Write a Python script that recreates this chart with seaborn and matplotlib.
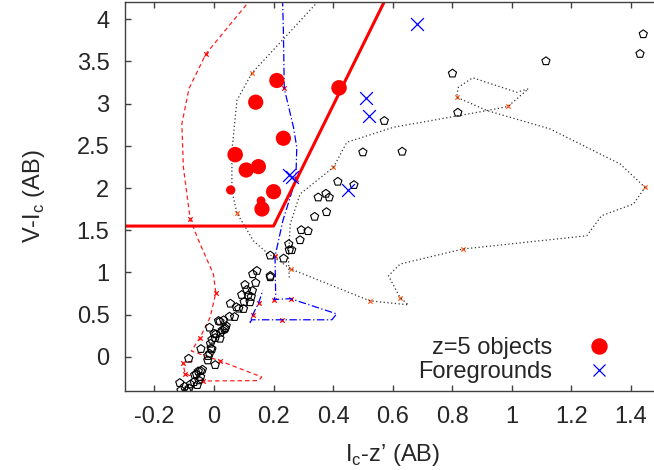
import numpy as np
import pandas as pd
import matplotlib
matplotlib.use("Agg")
import matplotlib.pyplot as plt
from matplotlib.lines import Line2D
from matplotlib.ticker import FuncFormatter
import seaborn as sns

# z=5 objects (red circles)
z5_x = [0.211, 0.140, 0.233, 0.071, 0.108, 0.149, 0.056, 0.200, 0.161, 0.158, 0.420]
z5_y = [3.274, 3.017, 2.590, 2.396, 2.214, 2.254, 1.977, 1.957, 1.752, 1.850, 3.187]
z5_s = [120, 120, 120, 125, 120, 120, 45, 120, 120, 40, 125]

# foregrounds (blue crosses)
fg_x = [0.681, 0.510, 0.521, 0.451, 0.252, 0.262]
fg_y = [3.940, 3.070, 2.855, 1.981, 2.160, 2.135]

# stars / other objects (open pentagons)
star_x = [1.442, 1.431, 1.115, 0.801, 0.819, 0.572, 0.500, 0.632, 0.416, 0.470,
          0.376, 0.387, 0.350, 0.378, 0.338, 0.316, 0.293, 0.289, 0.251, 0.261,
          0.253, 0.189, 0.234, 0.189, 0.189, 0.144, 0.130, 0.140, 0.104, 0.110,
          0.129, 0.093, 0.125, 0.115, 0.121, 0.101, 0.055, 0.075, 0.083, 0.099,
          0.069, 0.052, 0.032, 0.041, 0.038, 0.020, 0.015, 0.035, 0.028, 0.022,
          0.006, -0.015, 0.000, 0.004, 0.020, -0.007, -0.012, -0.010, -0.007, -0.044,
          -0.015, -0.021, -0.021, 0.004, -0.085, -0.045, -0.053, -0.059, -0.065, -0.045,
          -0.051, -0.067, -0.056, -0.079, -0.115, -0.099, -0.084, -0.111, -0.091, -0.039]
star_y = [3.823, 3.590, 3.503, 3.357, 2.894, 2.796, 2.424, 2.432, 2.076, 2.037,
          1.934, 1.890, 1.890, 1.716, 1.661, 1.491, 1.503, 1.384, 1.337, 1.266,
          1.266, 1.202, 1.166, 0.961, 0.945, 1.020, 0.981, 0.878, 0.854, 0.795,
          0.783, 0.735, 0.712, 0.732, 0.649, 0.652, 0.632, 0.590, 0.573, 0.569,
          0.474, 0.478, 0.435, 0.368, 0.340, 0.419, 0.427, 0.328, 0.317, 0.288,
          0.269, 0.348, 0.276, 0.225, 0.217, 0.205, 0.158, 0.103, 0.091, 0.095,
          0.039, 0.012, -0.040, -0.095, -0.020, -0.166, -0.170, -0.205, -0.214, -0.237,
          -0.276, -0.297, -0.332, -0.324, -0.308, -0.352, -0.371, -0.395, -0.403, -0.150]

# model tracks
red_x = [0.127, -0.027, -0.084, -0.108, -0.103, -0.080, -0.052, -0.022, -0.002, 0.006,
         -0.013, -0.047, -0.076, 0.020, 0.160, 0.150, -0.036, -0.097, -0.105, -0.065]
red_y = [4.25, 3.59, 3.18, 2.76, 2.25, 1.63, 1.38, 1.14, 0.98, 0.76,
         0.47, 0.23, 0.07, -0.047, -0.237, -0.28, -0.285, -0.198, -0.067, -0.05]
red_mx = [-0.027, -0.080, 0.006, -0.047, 0.020, -0.036, -0.097, -0.105]
red_my = [3.59, 1.63, 0.76, 0.23, -0.047, -0.285, -0.198, -0.067]

blue_x = [0.230, 0.233, 0.236, 0.267, 0.278, 0.275, 0.231, 0.205, 0.207, 0.202,
          0.257, 0.412, 0.396, 0.230, 0.127, 0.121, 0.130, 0.150, 0.164]
blue_y = [4.25, 3.87, 3.18, 2.72, 2.48, 2.11, 1.61, 1.19, 0.74, 0.68,
          0.69, 0.51, 0.44, 0.44, 0.44, 0.41, 0.50, 0.64, 0.79]
blue_mx = [0.236, 0.275, 0.205, 0.202, 0.257, 0.230, 0.130, 0.150]
blue_my = [3.18, 2.11, 1.19, 0.68, 0.69, 0.44, 0.50, 0.64]

blk_x = [0.36, 0.127, 0.077, 0.060, 0.060, 0.077, 0.093, 0.132, 0.177, 0.259,
         0.524, 0.653, 0.625, 0.586, 0.625, 0.836, 1.252, 1.302, 1.409, 1.448,
         1.364, 1.129, 0.917, 0.815, 0.821, 0.869, 1.017, 1.056, 0.987, 0.917,
         0.793, 0.603, 0.446, 0.401, 0.289, 0.256, 0.250, 0.253]
blk_y = [4.25, 3.36, 3.04, 2.44, 1.97, 1.70, 1.61, 1.376, 1.237, 1.04,
         0.664, 0.617, 0.703, 0.961, 1.10, 1.278, 1.435, 1.673, 1.811, 2.008,
         2.286, 2.70, 2.918, 3.076, 3.195, 3.306, 3.135, 3.175, 2.966, 2.918,
         2.839, 2.72, 2.542, 2.245, 1.93, 1.574, 1.178, 0.92]
blk_mx = [0.127, 0.077, 0.259, 0.524, 0.625, 0.836, 1.448, 0.815, 0.987, 0.401]
blk_my = [3.36, 1.70, 1.04, 0.664, 0.703, 1.278, 2.008, 3.076, 2.966, 2.245]

# selection box
sel_x = [-0.3, 0.2, 0.578]
sel_y = [1.55, 1.55, 4.25]

sns.set_style("ticks")
plt.rcParams['font.family'] = ['Liberation Sans', 'DejaVu Sans']
plt.rcParams['mathtext.fontset'] = 'custom'
plt.rcParams['mathtext.rm'] = 'Liberation Sans'
plt.rcParams['axes.unicode_minus'] = False

fs = 17

fig = plt.figure(figsize=(6.54, 4.70), dpi=100)
ax = fig.add_axes([0.1907, 0.1687, 0.8193, 0.8264])

# tracks
sns.lineplot(x=red_x, y=red_y, sort=False, estimator=None, ax=ax,
             color='#ff2020', lw=0.9, linestyle=(0, (3.5, 2.5)))
sns.lineplot(x=blue_x, y=blue_y, sort=False, estimator=None, ax=ax,
             color='#0000ff', lw=0.9, linestyle=(0, (6, 2, 1, 2)))
sns.lineplot(x=blk_x, y=blk_y, sort=False, estimator=None, ax=ax,
             color='#333333', lw=0.9, linestyle=(0, (1, 2)))
sns.scatterplot(x=red_mx, y=red_my, ax=ax, marker='x', color='#ff0000', s=10, linewidth=0.9)
sns.scatterplot(x=blue_mx, y=blue_my, ax=ax, marker='x', color='#ff0000', s=10, linewidth=0.9)
sns.scatterplot(x=blk_mx, y=blk_my, ax=ax, marker='x', color='#ff6020', s=10, linewidth=0.9)

# selection line
sns.lineplot(x=sel_x, y=sel_y, sort=False, estimator=None, ax=ax, color='#ff0000', lw=2.2)

# points
sns.scatterplot(x=star_x, y=star_y, ax=ax, marker='p', s=38,
                facecolor='none', edgecolor='black', linewidth=0.8, zorder=3)
sns.scatterplot(x=z5_x, y=z5_y, ax=ax, marker='o', s=z5_s,
                facecolor='#ff0000', edgecolor='none', zorder=4)
sns.scatterplot(x=fg_x, y=fg_y, ax=ax, marker='x', s=85, color='#0000ff',
                linewidth=0.9, zorder=5)

ax.set_xlim(-0.3, 1.5)
ax.set_ylim(-0.4, 4.2)
fmt = FuncFormatter(lambda v, p: '%g' % round(v, 2))
ax.xaxis.set_major_formatter(fmt)
ax.yaxis.set_major_formatter(fmt)
ax.set_xticks(np.arange(-0.2, 1.41, 0.2))
ax.set_yticks(np.arange(0, 4.01, 0.5))

for s in ax.spines.values():
    s.set_color('#404040')
    s.set_linewidth(1.0)
ax.tick_params(axis='both', direction='in', length=4.5, width=1.0, color='#404040',
               labelsize=fs, top=True, right=True)
ax.tick_params(axis='x', pad=11)
ax.tick_params(axis='y', pad=11)

ax.set_xlabel("I$_\\mathrm{c}$-z\u2019 (AB)", fontsize=fs, va='center')
ax.set_ylabel("V-I$_\\mathrm{c}$ (AB)", fontsize=fs, va='center')
ax.xaxis.set_label_coords(0.5, -0.1655)
ax.yaxis.set_label_coords(-0.169, 0.5)

handles = [Line2D([], [], marker='o', ls='none', color='#ff0000', markersize=10.8),
           Line2D([], [], marker='x', ls='none', color='#0000ff', markersize=9, mew=0.9)]
ax.legend(handles, ['z=5 objects', 'Foregrounds'], markerfirst=False, frameon=False,
          fontsize=fs, loc='center right', bbox_to_anchor=(0.9468, 0.079),
          borderaxespad=0, handletextpad=0.99, labelspacing=0.07, borderpad=0.4)

fig.savefig('out.png', dpi=100)
